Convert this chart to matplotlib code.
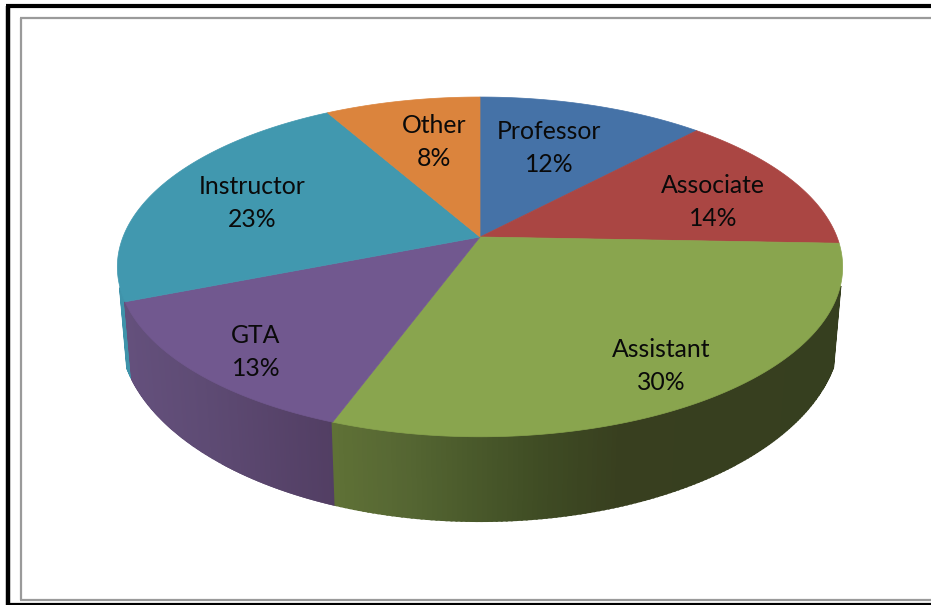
import numpy as np
import matplotlib
matplotlib.use('Agg')
import matplotlib.pyplot as plt
from matplotlib.colors import to_rgb

plt.rcParams['font.family'] = ['Lato', 'DejaVu Sans']

labels = ['Professor', 'Associate', 'Assistant', 'GTA', 'Instructor', 'Other']
values = [12.0, 13.6, 30.0, 13.4, 22.8, 8.2]

colors = ['#4572A7', '#AA4643', '#89A54E', '#71588F', '#4198AF', '#DB843D']
# side shading, (x pixel, colour) stops for the slices that show a side
side_stops = {
    'Assistant': ([333, 400, 470, 540, 620, 840], ['#5f7136', '#566733', '#4a5a2b', '#3f4c24', '#383f1f', '#363f1f']),
    'GTA': ([125, 200, 333], ['#64507c', '#5e4b74', '#523e63']),
    'Instructor': ([117, 135], ['#3f93aa', '#3f93aa']),
}
label_xy = [(549, 147), (713, 201), (661, 365), (256, 351), (252, 202), (434, 141)]

cx, cy = 480, 237
k, c, a = 357, 0.176, -122.9


def top_point(t):
    # t is the fraction of the pie, clockwise from the top
    ang = 2 * np.pi * np.asarray(t)
    u, v = np.sin(ang), np.cos(ang)
    return cx + k * u / (1 + c * v), (a * v + cy) / (1 + c * v)


def low_point(x):
    xl = cx + (x - cx) * 0.98
    s = np.clip(1 - ((xl - cx) / 360) ** 2, 0, 1)
    return xl, 330 + 191 * np.sqrt(s)


def shade(x, xs, cols):
    rgb = np.array([to_rgb(q) for q in cols])
    return [np.interp(x, xs, rgb[:, i]) for i in range(3)]


fig = plt.figure(figsize=(9.31, 6.05), dpi=100)
ax = fig.add_axes([0, 0, 1, 1])
ax.set_xlim(0, 931)
ax.set_ylim(605, 0)
ax.axis('off')

# frame
ax.plot([8, 8], [605, 6], color='black', lw=3.2, solid_capstyle='butt')
ax.plot([6, 931], [6, 6], color='black', lw=3.0, solid_capstyle='butt')
ax.plot([6, 931], [604, 604], color='black', lw=1.6, solid_capstyle='butt')
ax.plot([20.5, 20.5], [600, 18], color='#9a9a9a', lw=1.6, solid_capstyle='butt')
ax.plot([20, 931], [18, 18], color='#9a9a9a', lw=1.6, solid_capstyle='butt')
ax.plot([20, 931], [600, 600], color='#9a9a9a', lw=1.6, solid_capstyle='butt')

edges = np.concatenate([[0], np.cumsum(values)]) / sum(values)

# front sides, back to front so the slice edges overlap properly
for i in [4, 3, 2]:
    t = np.linspace(edges[i], edges[i + 1], 160)
    x, y = top_point(t)
    xs, cols = side_stops[labels[i]]
    for j in range(len(t) - 1):
        if y[j] < 288 and y[j + 1] < 288:
            continue
        xl0, yl0 = low_point(x[j])
        xl1, yl1 = low_point(x[j + 1])
        col = shade((x[j] + x[j + 1]) / 2, xs, cols)
        ax.fill([x[j], x[j + 1], xl1, xl0], [y[j], y[j + 1], yl1, yl0], color=col, lw=1.5)

# top of the pie
for i in range(len(values)):
    t = np.linspace(edges[i], edges[i + 1], 160)
    x, y = top_point(t)
    ax.fill(np.r_[cx, x], np.r_[cy, y], color=colors[i], lw=0.5)

# two separate lines, the gap in the reference is 33 px
for i in range(len(values)):
    lx, ly = label_xy[i]
    ax.text(lx, ly - 8, labels[i], ha='center', va='baseline', fontsize=17.8, color='#0a0a0a')
    ax.text(lx, ly + 25, f'{round(values[i])}%', ha='center', va='baseline', fontsize=17.8, color='#0a0a0a')

plt.savefig('out.png', dpi=100)
